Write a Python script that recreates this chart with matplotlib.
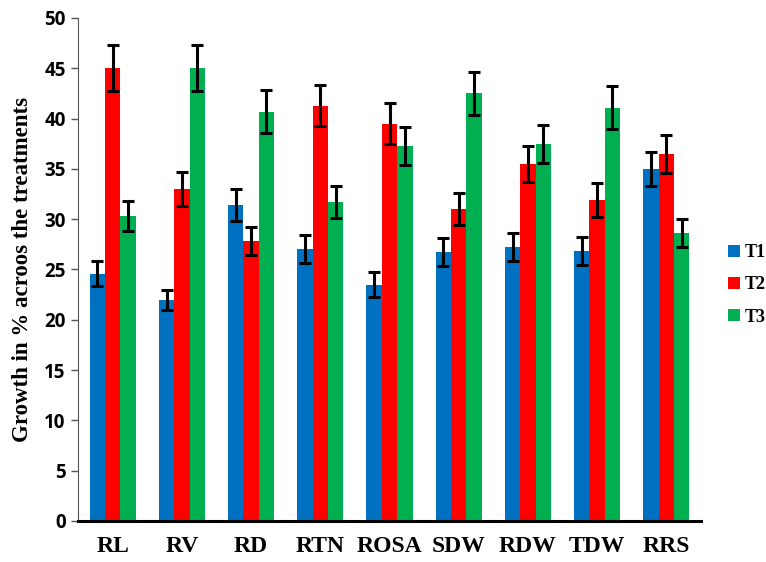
import matplotlib.pyplot as plt
import numpy as np

categories = ['RL', 'RV', 'RD', 'RTN', 'ROSA', 'SDW', 'RDW', 'TDW', 'RRS']
t1 = [24.6, 22.0, 31.4, 27.0, 23.5, 26.7, 27.2, 26.8, 35.0]
t2 = [45.0, 33.0, 27.8, 41.3, 39.5, 31.0, 35.5, 31.9, 36.5]
t3 = [30.3, 45.0, 40.7, 31.7, 37.3, 42.5, 37.5, 41.1, 28.6]
t1_err = [1.2, 1.0, 1.6, 1.4, 1.2, 1.4, 1.4, 1.4, 1.7]
t2_err = [2.3, 1.7, 1.4, 2.0, 2.0, 1.6, 1.8, 1.7, 1.9]
t3_err = [1.5, 2.3, 2.1, 1.6, 1.9, 2.1, 1.9, 2.1, 1.4]
series_names = ['T1', 'T2', 'T3']
colors = ['#0070C0', '#FF0000', '#00B050']

fig = plt.figure(figsize=(7.66, 5.62), dpi=100)
ax = fig.add_axes([0.102, 0.073, 0.813, 0.895])

x = np.arange(len(categories))
w = 0.222
for i, (vals, errs) in enumerate(zip([t1, t2, t3], [t1_err, t2_err, t3_err])):
    ax.bar(x + (i - 1) * w, vals, w, color=colors[i], label=series_names[i],
           yerr=errs, error_kw=dict(ecolor='black', elinewidth=2.2, capsize=4.5, capthick=2.2))

ax.set_xlim(-0.5, len(categories) - 0.5)
ax.set_ylim(0, 50)
ax.set_yticks(range(0, 51, 5))
ax.set_xticks(x)
ax.set_xticklabels(categories, family='Liberation Serif', fontweight='bold', fontsize=17)
for lab in ax.get_yticklabels():
    lab.set_family('Open Sans')
    lab.set_fontweight('bold')
    lab.set_fontsize(13.5)
ax.tick_params(axis='x', length=0, pad=11)
ax.tick_params(axis='y', length=5, color='#555555', width=1, pad=4)

ax.spines['top'].set_visible(False)
ax.spines['right'].set_visible(False)
ax.spines['left'].set_color('#555555')
ax.spines['bottom'].set_linewidth(2.2)
ax.spines['bottom'].set_color('black')

ax.set_ylabel('Growth in % acroos the treatments', family='Liberation Serif',
              fontweight='bold', fontsize=16.5, labelpad=8)

leg = ax.legend(loc='center left', bbox_to_anchor=(0.951, 0.493), bbox_transform=fig.transFigure,
                frameon=False, handlelength=0.65, handleheight=0.65, handletextpad=0.25,
                borderpad=0, borderaxespad=0, labelspacing=0.85,
                prop={'family': 'Liberation Serif', 'weight': 'bold', 'size': 13})

fig.savefig('out.png', dpi=100)
